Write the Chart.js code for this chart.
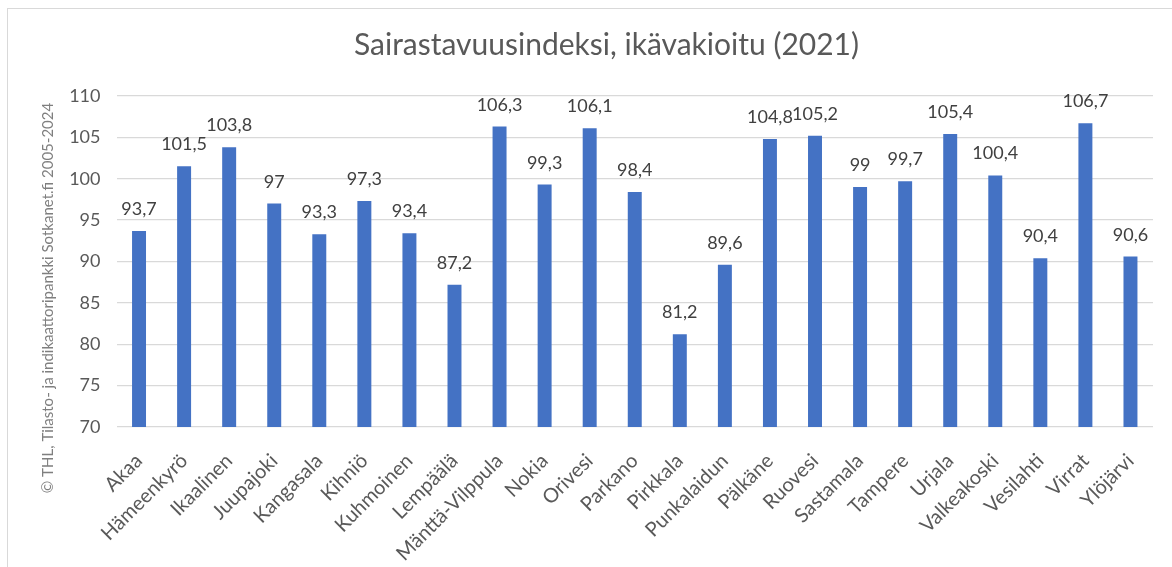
<!DOCTYPE html>
<html>
<head>
<meta charset="utf-8">
<script src="https://cdn.jsdelivr.net/npm/chart.js@4"></script>
<style>
  body { margin: 0; background: #fff; overflow: hidden; }
  #frame {
    position: absolute; left: 7px; top: 8px; width: 1200px; height: 600px;
    border: 1px solid #d9d9d9; box-sizing: border-box;
  }
  #wrap { position: absolute; left: 0; top: 0; width: 1172px; height: 567px; }
</style>
</head>
<body>
<div id="frame"></div>
<div id="wrap"><canvas id="chart"></canvas></div>
<script>
const municipalities = [
  "Akaa", "Hämeenkyrö", "Ikaalinen", "Juupajoki", "Kangasala", "Kihniö",
  "Kuhmoinen", "Lempäälä", "Mänttä-Vilppula", "Nokia", "Orivesi", "Parkano",
  "Pirkkala", "Punkalaidun", "Pälkäne", "Ruovesi", "Sastamala", "Tampere",
  "Urjala", "Valkeakoski", "Vesilahti", "Virrat", "Ylöjärvi",
];
const indexValues = [
  93.7, 101.5, 103.8, 97, 93.3, 97.3, 93.4, 87.2, 106.3, 99.3, 106.1, 98.4,
  81.2, 89.6, 104.8, 105.2, 99, 99.7, 105.4, 100.4, 90.4, 106.7, 90.6,
];
const yMin = 70;
const yMax = 110;
const yStep = 5;
const titleText = "Sairastavuusindeksi, ikävakioitu (2021)";
const sourceText = "© THL, Tilasto- ja indikaattoripankki Sotkanet.fi 2005-2024";

const fmt = (v) => String(v).replace(".", ",");

// value labels above the bars
const barLabels = {
  id: "barLabels",
  afterDatasetsDraw(chart) {
    const ctx = chart.ctx;
    const meta = chart.getDatasetMeta(0);
    ctx.save();
    ctx.font = "18px Lato";
    ctx.fillStyle = "#404040";
    ctx.textAlign = "center";
    ctx.textBaseline = "alphabetic";
    meta.data.forEach((bar, i) => {
      ctx.fillText(fmt(indexValues[i]), bar.x, bar.y - 16);
    });
    ctx.restore();
  },
};

// vertical source text on the left
const sourceNote = {
  id: "sourceNote",
  afterDraw(chart) {
    const ctx = chart.ctx;
    ctx.save();
    ctx.translate(48, 298);
    ctx.rotate(-Math.PI / 2);
    ctx.font = "15px Lato";
    ctx.fillStyle = "#7f7f7f";
    ctx.textAlign = "center";
    ctx.textBaseline = "middle";
    ctx.fillText(sourceText, 0, 0);
    ctx.restore();
  },
};

const ctx = document.getElementById("chart").getContext("2d");
new Chart(ctx, {
  type: "bar",
  data: {
    labels: municipalities,
    datasets: [
      {
        data: indexValues,
        backgroundColor: "#4472c4",
        borderWidth: 0,
        barPercentage: 0.31,
        categoryPercentage: 1,
      },
    ],
  },
  options: {
    responsive: true,
    maintainAspectRatio: false,
    animation: false,
    layout: { padding: { left: 60, right: 19, top: 0, bottom: 0 } },
    plugins: {
      legend: { display: false },
      tooltip: { enabled: false },
      title: {
        display: true,
        text: titleText,
        color: "#595959",
        font: { family: "Lato", size: 30, weight: "normal" },
        padding: { top: 27, bottom: 33 },
      },
    },
    scales: {
      x: {
        grid: { display: false },
        border: { display: false },
        ticks: {
          color: "#595959",
          font: { family: "Lato", size: 20 },
          minRotation: 45,
          maxRotation: 45,
          autoSkip: false,
          padding: 14,
        },
        afterFit(scale) {
          scale.height = 140;
        },
      },
      y: {
        min: yMin,
        max: yMax,
        border: { display: false },
        grid: { color: "#d9d9d9", lineWidth: 1.3, drawTicks: false },
        ticks: {
          stepSize: yStep,
          color: "#595959",
          font: { family: "Lato", size: 18 },
          padding: 16,
        },
        afterFit(scale) {
          scale.width = 56.5;
        },
      },
    },
  },
  plugins: [barLabels, sourceNote],
});
</script>
</body>
</html>
